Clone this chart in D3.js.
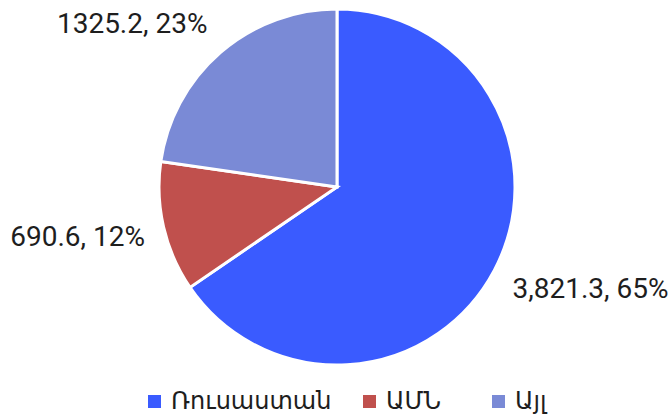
<!DOCTYPE html>
<html>
<head>
<meta charset="utf-8">
<script src="https://cdn.jsdelivr.net/npm/d3@7"></script>
<style>
  body { margin: 0; background: #fff; }
  svg { display: block; font-family: Roboto, "DejaVu Sans", sans-serif; }
</style>
</head>
<body>
<div id="chart"></div>
<script>
const categories = ["Ռուսաստան", "ԱՄՆ", "Այլ"];
const values = [3821.3, 690.6, 1325.2];
const labels = ["3,821.3, 65%", "690.6, 12%", "1325.2, 23%"];
const colors = ["#3a5bff", "#c0504d", "#7a8ad6"];

const width = 671, height = 417;
const cx = 337, cy = 187, radius = 178;

const svg = d3.select("#chart").append("svg")
  .attr("width", width)
  .attr("height", height);

const data = categories.map((c, i) => ({ name: c, value: values[i], label: labels[i], color: colors[i] }));

const pie = d3.pie().value(d => d.value).sort(null);
const arc = d3.arc().innerRadius(0).outerRadius(radius);
const arcs = pie(data);

const g = svg.append("g").attr("transform", `translate(${cx},${cy})`);

g.selectAll("path")
  .data(arcs)
  .enter().append("path")
  .attr("d", arc)
  .attr("fill", d => d.data.color)
  .attr("stroke", "#fff")
  .attr("stroke-width", 3)
  .attr("stroke-linejoin", "miter");

// labels just outside the slice edge
const labelR = radius + 17;
g.selectAll("text.lbl")
  .data(arcs)
  .enter().append("text")
  .attr("class", "lbl")
  .each(function(d) {
    const a = (d.startAngle + d.endAngle) / 2;
    const sx = Math.sin(a), sy = -Math.cos(a);
    const x = sx * labelR + (sx > 0 ? 3 : -2);
    const y = sy * labelR + sy * 22;
    d3.select(this)
      .attr("x", x)
      .attr("y", y + 10)
      .attr("text-anchor", sx > 0 ? "start" : "end");
  })
  .style("font-size", "28px")
  .style("fill", "#1e1e1e")
  .text(d => d.data.label);

// legend
const legendX = [148, 363, 492];
const legend = svg.selectAll("g.legend")
  .data(data)
  .enter().append("g")
  .attr("class", "legend")
  .attr("transform", (d, i) => `translate(${legendX[i]},395)`);

legend.append("rect")
  .attr("width", 13)
  .attr("height", 13)
  .attr("fill", d => d.color);

legend.append("text")
  .attr("x", 23)
  .attr("y", 14)
  .style("font-size", "24px")
  .style("fill", "#1e1e1e")
  .text(d => d.name);
</script>
</body>
</html>
